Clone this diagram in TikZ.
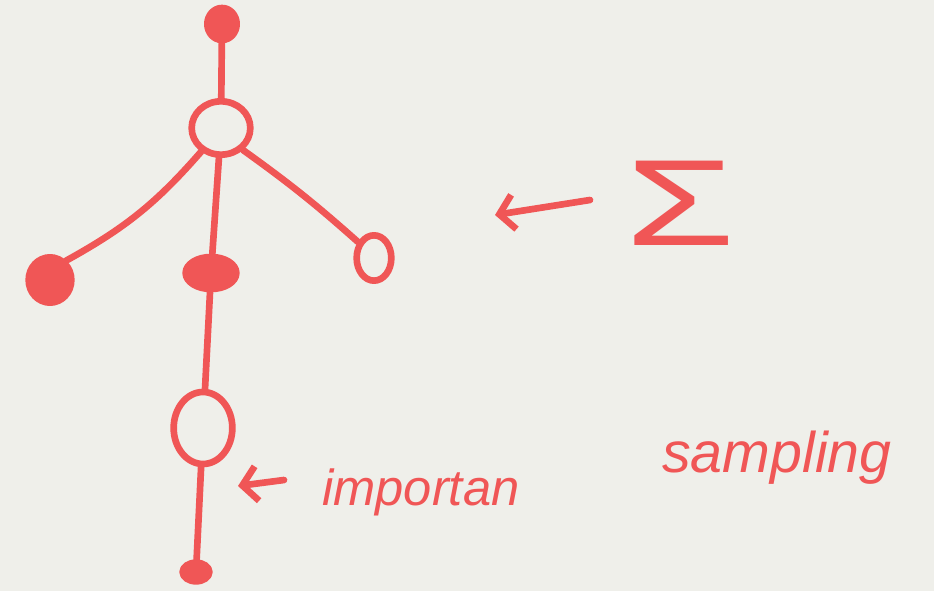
\documentclass[tikz,border=0pt]{standalone}
\usepackage{fontspec}
\setmainfont{Liberation Sans}
\usetikzlibrary{arrows.meta,shapes.geometric}
\definecolor{ink}{HTML}{F05656}
\definecolor{paper}{HTML}{EFEFEA}
\begin{document}
\begin{tikzpicture}[x=0.75pt,y=-0.75pt,
  pen/.style={draw=ink,line width=5pt,line cap=round,line join=round},
  blob/.style={pen,ellipse,inner sep=0pt},
  solidblob/.style={blob,fill=ink},
  edge/.style={pen},
  pointer/.style={pen,-{Straight Barb[length=11pt,width=26pt,line width=5pt]}},
  scrawl/.style={text=ink,font=\itshape,inner sep=0pt}]
\fill[paper] (0,0) rectangle (934,591);
\useasboundingbox (0,0) rectangle (934,591);
% nodes
\node[solidblob,minimum width=22pt,minimum height=24pt] (top) at (222,24) {};
\node[blob,minimum width=44pt,minimum height=40pt] (hub) at (221,128) {};
\node[solidblob,minimum width=32pt,minimum height=34pt] (left) at (50,280) {};
\node[solidblob,minimum width=38pt,minimum height=24pt] (mid) at (211,273) {};
\node[blob,minimum width=26pt,minimum height=34pt] (right) at (374,258) {};
\node[blob,minimum width=44pt,minimum height=54pt] (low) at (203,428) {};
\node[solidblob,minimum width=20pt,minimum height=14pt] (bot) at (196,572) {};
% edges
\draw[edge] (top) -- (hub);
\draw[edge] (hub.230) to[bend left=10] (left.50);
\draw[edge] (hub) -- (mid);
\draw[edge] (hub.315) to[bend left=3] (right.135);
\draw[edge] (mid) -- (low);
\draw[edge] (low) -- (bot);
% sigma and arrow
\node[text=ink,inner sep=0pt,xscale=1.45,font=\fontsize{92}{92}\selectfont] (sig) at (680,203) {Σ};
\coordinate (sigtail) at (590,200);
\coordinate (sighead) at (495,215);
\draw[pointer] (sigtail) -- (sighead);
% text and arrow
\node[scrawl,anchor=base west,font=\itshape\fontsize{38}{40}\selectfont] (imp) at (322,505) {importan};
\node[scrawl,anchor=base west,font=\itshape\fontsize{43}{46}\selectfont] (samp) at (662,472) {sampling};
\coordinate (imptail) at (284,480);
\coordinate (imphead) at (238,486);
\draw[pointer] (imptail) -- (imphead);
\end{tikzpicture}
\end{document}
